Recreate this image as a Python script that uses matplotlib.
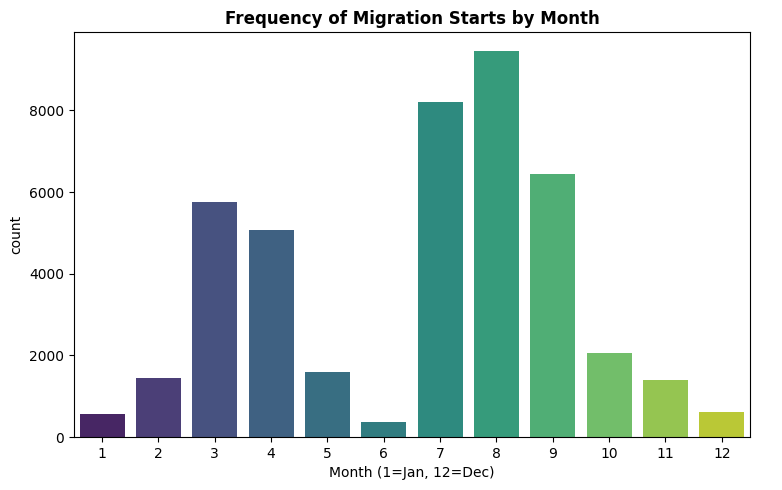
import matplotlib
matplotlib.use("Agg")
import matplotlib.pyplot as plt
import seaborn as sns

months = [1, 2, 3, 4, 5, 6, 7, 8, 9, 10, 11, 12]
counts = [565, 1450, 5765, 5080, 1595, 370, 8195, 9450, 6430, 2060, 1400, 615]

# seaborn's barplot desaturates the palette to 0.75 by default
colors = [sns.desaturate(c, 0.75) for c in sns.color_palette("viridis", len(months))]

fig = plt.figure(figsize=(7.82, 4.9), dpi=100)
ax = fig.add_axes([0.0946, 0.108, 0.8644, 0.827])

ax.bar(range(len(months)), counts, width=0.8, color=colors)
ax.set_xticks(range(len(months)))
ax.set_xticklabels([str(m) for m in months])
ax.set_xlim(-0.5, len(months) - 0.5)

ax.set_title("Frequency of Migration Starts by Month", fontweight="bold")
ax.set_xlabel("Month (1=Jan, 12=Dec)")
ax.set_ylabel("count")

fig.savefig("out.png", dpi=100)
